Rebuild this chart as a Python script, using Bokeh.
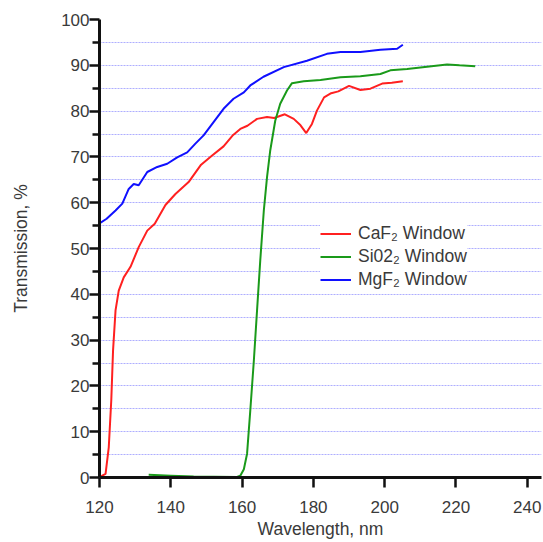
from bokeh.plotting import figure
from bokeh.models import Range1d, Legend, LegendItem, FixedTicker
from bokeh.embed import file_html
from bokeh.resources import INLINE

# ---- data ----
caf2_nm = [120.0, 121.7, 122.6, 123.3, 123.8, 124.5, 125.4, 126.8, 128.7, 131.0, 133.4, 135.5,
           138.5, 141.3, 145.0, 148.5, 151.6, 154.8, 157.5, 159.5, 161.5, 164.2, 167.0, 169.0,
           172.0, 174.5, 176.4, 178.0, 179.6, 181.0, 183.0, 185.0, 187.0, 190.0, 193.2, 196.0,
           199.3, 202.0, 205.1]
caf2_T = [0.1, 0.8, 6.6, 16.8, 27.7, 36.5, 40.8, 43.7, 46.0, 50.3, 53.9, 55.4,
          59.5, 61.9, 64.5, 68.3, 70.3, 72.3, 74.8, 76.1, 76.8, 78.3, 78.7, 78.5,
          79.3, 78.3, 76.9, 75.2, 77.2, 80.1, 83.0, 83.9, 84.3, 85.5, 84.6, 84.9,
          86.0, 86.2, 86.5]

sio2_nm = [133.8, 140.0, 146.4, 152.0, 158.6, 159.5, 160.5, 161.4, 162.3, 163.3, 164.2, 165.1,
           166.1, 167.0, 167.9, 169.3, 170.7, 172.6, 174.0, 177.3, 182.0, 187.6, 193.2, 198.8,
           201.6, 206.3, 211.9, 217.5, 221.0, 225.4]
sio2_T = [0.6, 0.4, 0.2, 0.15, 0.1, 0.4, 1.8, 5.2, 14.6, 25.5, 36.5, 47.4,
          58.3, 65.6, 71.4, 77.9, 81.6, 84.5, 86.1, 86.5, 86.8, 87.4, 87.6, 88.1,
          88.9, 89.2, 89.7, 90.2, 90.0, 89.8]

mgf2_nm = [120.0, 122.0, 124.5, 126.4, 128.2, 129.6, 131.0, 133.4, 136.2, 139.0, 141.8, 144.6,
           146.9, 149.2, 152.0, 154.8, 157.6, 160.5, 162.3, 166.0, 171.7, 178.2, 183.8, 187.6,
           193.2, 198.8, 203.5, 205.1]
mgf2_T = [55.5, 56.5, 58.3, 59.8, 63.0, 64.1, 63.8, 66.7, 67.8, 68.5, 69.9, 71.0,
          72.9, 74.7, 77.6, 80.5, 82.7, 84.1, 85.6, 87.5, 89.6, 91.0, 92.5, 92.9,
          92.9, 93.4, 93.6, 94.5]

labels = ["CaF\u2082 Window", "Si02\u2082 Window", "MgF\u2082 Window"]
x_ticks = [120, 140, 160, 180, 200, 220, 240]
y_ticks = [0, 10, 20, 30, 40, 50, 60, 70, 80, 90, 100]
x_title = "Wavelength, nm"
y_title = "Transmission, %"

FONT = "Liberation Sans"
TXT = "#3a3a3a"

p = figure(width=542, height=541, output_backend="svg", toolbar_location=None,
           x_range=Range1d(120, 244), y_range=Range1d(0, 100),
           min_border_left=99, min_border_right=1, min_border_top=19, min_border_bottom=64)
p.outline_line_color = None

r1 = p.line(caf2_nm, caf2_T, line_color="#ff2020", line_width=2)
r2 = p.line(sio2_nm, sio2_T, line_color="#1a9a1a", line_width=2)
r3 = p.line(mgf2_nm, mgf2_T, line_color="#1010ff", line_width=2)

# grids
p.xgrid.grid_line_color = None
for attr in ("grid_line", "minor_grid_line"):
    setattr(p.ygrid[0], attr + "_color", "#9a9aff")
    setattr(p.ygrid[0], attr + "_dash", "2 1")
    setattr(p.ygrid[0], attr + "_width", 1)
    setattr(p.ygrid[0], attr + "_alpha", 0.8)

# axes
p.xaxis.ticker = FixedTicker(ticks=x_ticks)
p.yaxis.ticker = FixedTicker(ticks=y_ticks, minor_ticks=[v + 5 for v in y_ticks[:-1]])
for ax in (p.xaxis[0], p.yaxis[0]):
    ax.axis_line_width = 3
    ax.axis_line_color = "#111111"
    ax.major_tick_line_width = 2.5
    ax.major_tick_line_color = "#111111"
    ax.minor_tick_line_width = 2.5
    ax.minor_tick_line_color = "#111111"
    ax.major_tick_in = 0
    ax.major_tick_out = 10
    ax.minor_tick_in = 0
    ax.major_label_text_font = FONT
    ax.major_label_text_font_size = "17px"
    ax.major_label_text_color = TXT
    ax.axis_label_text_font = FONT
    ax.axis_label_text_font_size = "17.5px"
    ax.axis_label_text_font_style = "normal"
    ax.axis_label_text_color = TXT
p.xaxis.minor_tick_out = 0
p.yaxis.minor_tick_out = 7
p.xaxis.major_label_standoff = 13
p.yaxis.major_label_standoff = 0
p.xaxis.axis_label = x_title
p.yaxis.axis_label = y_title
p.xaxis.axis_label_standoff = 3
p.yaxis.axis_label_standoff = 27

legend = Legend(items=[LegendItem(label=labels[0], renderers=[r1]),
                       LegendItem(label=labels[1], renderers=[r2]),
                       LegendItem(label=labels[2], renderers=[r3])],
                location=(221, 186), orientation="vertical")
legend.border_line_color = None
legend.background_fill_color = "white"
legend.background_fill_alpha = 1.0
legend.padding = 4
legend.margin = 0
legend.spacing = 0
legend.glyph_width = 31
legend.glyph_height = 23
legend.label_height = 23
legend.label_standoff = 7
legend.label_text_font = FONT
legend.label_text_font_size = "17.5px"
legend.label_text_color = TXT
p.add_layout(legend, "center")

open("out.html", "w").write(file_html(p, INLINE))
